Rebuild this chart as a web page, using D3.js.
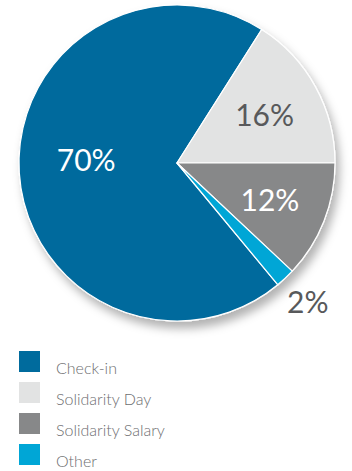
<!DOCTYPE html>
<html>
<head>
<meta charset="utf-8">
<script src="https://cdn.jsdelivr.net/npm/d3@7"></script>
<style>
  html, body { margin: 0; padding: 0; background: #fff; }
  svg { display: block; }
</style>
</head>
<body>
<script>
// Share of contributions by source
const categories = ["Check-in", "Solidarity Day", "Solidarity Salary", "Other"];
const values = [70, 16, 12, 2];
const valueLabels = ["70%", "16%", "12%", "2%"];
const colors = ["#006b9d", "#e2e3e3", "#878889", "#00a6d6"];
const labelColors = ["#ffffff", "#58595b", "#ffffff", "#58595b"];

const W = 352, H = 471;
const cx = 177, cy = 163, R = 158;

const svg = d3.select("body").append("svg")
  .attr("width", W).attr("height", H);

const defs = svg.append("defs");
const shadow = defs.append("filter").attr("id", "pieShadow")
  .attr("x", "-20%").attr("y", "-20%").attr("width", "140%").attr("height", "140%");
shadow.append("feDropShadow")
  .attr("dx", 4).attr("dy", 7).attr("stdDeviation", 5)
  .attr("flood-color", "#000").attr("flood-opacity", 0.3);

const rows = categories.map((c, i) => ({ name: c, value: values[i], label: valueLabels[i], i }));

// Check-in begins just past the small "Other" wedge and runs clockwise
const start = 140.4 * Math.PI / 180;
const pie = d3.pie().sort(null).value(d => d.value)
  .startAngle(start).endAngle(start + 2 * Math.PI);
const arcs = pie(rows);
const arc = d3.arc().innerRadius(0).outerRadius(R);

const g = svg.append("g").attr("transform", `translate(${cx},${cy})`);

g.append("g").attr("filter", "url(#pieShadow)")
  .selectAll("path").data(arcs).join("path")
  .attr("d", arc)
  .attr("fill", d => colors[d.data.i])
  .attr("stroke", "#fff")
  .attr("stroke-width", 1.2)
  .attr("stroke-linejoin", "round");

// Percentage labels: inside for large wedges, outside for the small one
function labelPos(d) {
  const a = (d.startAngle + d.endAngle) / 2;
  let r = d.data.value < 5 ? R + 33 : (d.data.value > 50 ? 91 : 100);
  let x = Math.sin(a) * r, y = -Math.cos(a) * r;
  if (d.data.value > 50) y -= 9;
  return [x, y];
}
g.selectAll("text.pct").data(arcs).join("text")
  .attr("class", "pct")
  .attr("transform", d => `translate(${labelPos(d)})`)
  .attr("text-anchor", "middle")
  .attr("dy", "0.36em")
  .attr("fill", d => labelColors[d.data.i])
  .style("font-family", "Lato, 'Open Sans', sans-serif")
  .style("font-weight", 400)
  .style("font-size", "30px")
  .text(d => d.data.label);

// Legend
const legend = svg.append("g").attr("transform", "translate(19,351)");
const item = legend.selectAll("g").data(rows).join("g")
  .attr("transform", d => `translate(0,${d.i * 31})`);
item.append("rect")
  .attr("width", 21).attr("height", 21)
  .attr("fill", d => colors[d.i]);
item.append("text")
  .attr("x", 37).attr("y", 23)
  .attr("fill", "#6d6e70")
  .style("font-family", "Lato, 'Open Sans', sans-serif")
  .style("font-weight", 300)
  .style("font-size", "16px")
  .text(d => d.name);
</script>
</body>
</html>
